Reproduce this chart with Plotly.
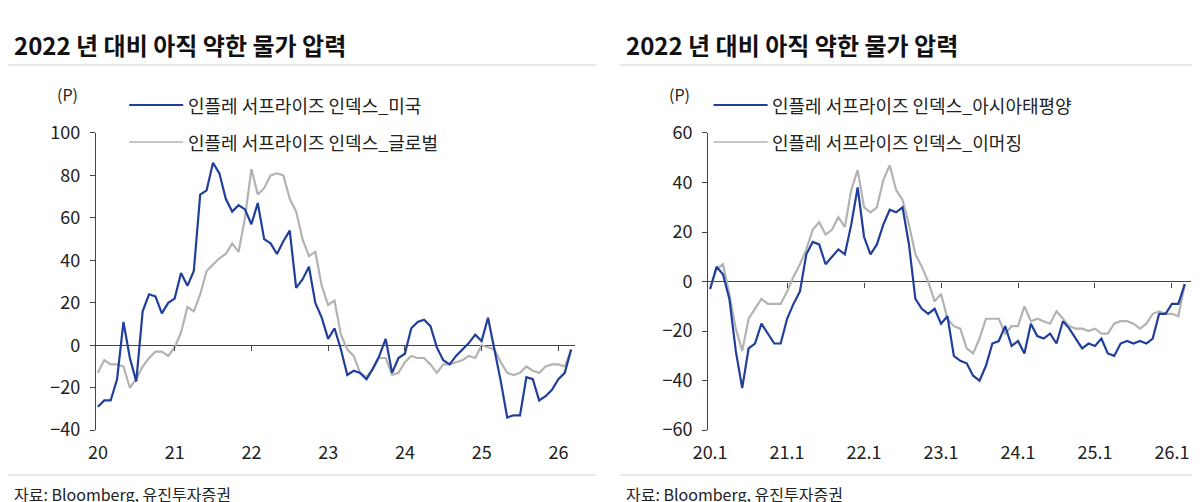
import plotly.graph_objects as go

us = [-29,-26,-26,-16,11,-6,-17,16,24,23,15,20,22,34,28,35,71,73,86,81,69,63,66,64,57,67,50,48,43,49,54,27,31,37,20,13,3,8,-2,-14,-12,-13,-16,-11,-5,3,-13,-6,-4,8,11,12,9,-1,-7,-9,-5,-2,1,5,2,13,-2,-17,-34,-33,-33,-15,-16,-26,-24,-21,-16,-13,-2]
glob = [-13,-7,-9,-9,-10,-20,-16,-10,-6,-3,-3,-5,-1,6,18,16,24,35,38,41,43,48,44,60,83,71,74,80,81,80,69,63,50,42,44,28,19,21,5,-2,-5,-13,-15,-11,-6,-6,-14,-13,-8,-5,-6,-6,-9,-13,-9,-9,-8,-7,-5,-6,0,-1,-2,-8,-13,-14,-13,-10,-12,-13,-10,-9,-9,-10,-2]
apac = [-3,6,3,-7,-28,-43,-27,-25,-17,-21,-25,-25,-15,-9,-4,11,16,15,7,10,13,11,23,38,18,11,15,23,29,28,30,15,-7,-11,-13,-11,-17,-14,-30,-32,-33,-38,-40,-34,-25,-24,-18,-26,-24,-29,-17,-22,-23,-21,-25,-16,-19,-23,-27,-25,-26,-23,-29,-30,-25,-24,-25,-24,-25,-23,-13,-13,-9,-9,-1]
emg = [-3,5,7,-5,-19,-28,-15,-11,-7,-9,-9,-9,-4,2,7,13,21,24,19,21,26,22,37,45,30,28,30,41,47,37,33,23,11,6,0,-8,-5,-15,-18,-19,-27,-29,-23,-15,-15,-15,-21,-18,-18,-10,-16,-15,-16,-17,-12,-15,-18,-19,-19,-20,-19,-21,-21,-17,-16,-16,-17,-19,-17,-13,-12,-13,-13,-14,-1]
months = list(range(len(us)))
tick_pos = [0,12,24,36,48,60,72]
left_ticks = ["20","21","22","23","24","25","26"]
right_ticks = ["20.1","21.1","22.1","23.1","24.1","25.1","26.1"]
title = "2022 년 대비 아직 약한 물가 압력"
leg_left = ["인플레 서프라이즈 인덱스_미국", "인플레 서프라이즈 인덱스_글로벌"]
leg_right = ["인플레 서프라이즈 인덱스_아시아태평양", "인플레 서프라이즈 인덱스_이머징"]
source = "자료: Bloomberg, 유진투자증권"

BLUE = "#1f3f9a"; GREY = "#b3b3b3"; FONT = "Noto Sans CJK KR"
fig = go.Figure()
fig.add_trace(go.Scatter(x=months, y=glob, mode="lines", line=dict(color=GREY, width=2.2), xaxis="x", yaxis="y"))
fig.add_trace(go.Scatter(x=months, y=us, mode="lines", line=dict(color=BLUE, width=2.2), xaxis="x", yaxis="y"))
fig.add_trace(go.Scatter(x=months, y=emg, mode="lines", line=dict(color=GREY, width=2.2), xaxis="x2", yaxis="y2"))
fig.add_trace(go.Scatter(x=months, y=apac, mode="lines", line=dict(color=BLUE, width=2.2), xaxis="x2", yaxis="y2"))

ydom = [0.159, 0.751]
def yfrac(v, lo, hi):
    return ydom[0] + (v - lo) / (hi - lo) * (ydom[1] - ydom[0])

common_x = dict(tickmode="array", tickvals=tick_pos, showline=False, showgrid=False, zeroline=False,
                ticks="", ticklabelstandoff=10, automargin=False, tickfont=dict(size=18, color="#222"))
common_y = dict(showgrid=False, showline=True, linecolor="#444", linewidth=1.3, ticks="outside",
                ticklen=5, tickcolor="#444", zeroline=True, zerolinecolor="#444", zerolinewidth=1.3,
                ticklabelstandoff=6, automargin=False, tickfont=dict(size=18, color="#222"))
fig.update_layout(
    width=1200, height=502, margin=dict(l=0, r=0, t=0, b=0, autoexpand=False), showlegend=False,
    plot_bgcolor="white", paper_bgcolor="white", font=dict(family=FONT),
    xaxis=dict(domain=[0.0733, 0.4725], range=[-0.3, 74.6], ticktext=left_ticks, anchor="y", **common_x),
    yaxis=dict(domain=ydom, range=[-40, 100], tickvals=[-40,-20,0,20,40,60,80,100], anchor="x", **common_y),
    xaxis2=dict(domain=[0.5835, 0.986], range=[-0.3, 75], ticktext=right_ticks, anchor="y2", **common_x),
    yaxis2=dict(domain=ydom, range=[-60, 60], tickvals=[-60,-40,-20,0,20,40,60], anchor="x2", **common_y),
    xaxis3=dict(overlaying="x", anchor="free", position=yfrac(0, -40, 100), range=[-0.3, 74.6],
                tickvals=tick_pos[1:], showticklabels=False, ticks="outside", ticklen=5, tickcolor="#444",
                showgrid=False, zeroline=False, showline=False, automargin=False),
    xaxis4=dict(overlaying="x2", anchor="free", position=yfrac(0, -60, 60), range=[-0.3, 75],
                tickvals=tick_pos[1:], showticklabels=False, ticks="outside", ticklen=5, tickcolor="#444",
                showgrid=False, zeroline=False, showline=False, automargin=False),
)
fig.add_trace(go.Scatter(x=[], y=[], xaxis="x3", yaxis="y", showlegend=False))
fig.add_trace(go.Scatter(x=[], y=[], xaxis="x4", yaxis="y2", showlegend=False))

def Y(px):
    return 1 - px / 502

for x0, x1 in [(0, 0.49), (0.51, 1.0)]:
    fig.add_shape(type="line", xref="paper", yref="paper", x0=x0, x1=x1, y0=Y(57), y1=Y(57), line=dict(color="#d0d0d0", width=1))
    fig.add_shape(type="line", xref="paper", yref="paper", x0=x0, x1=x1, y0=Y(467), y1=Y(467), line=dict(color="#d0d0d0", width=1))
    fig.add_annotation(text="<b>" + title + "</b>", xref="paper", yref="paper", x=x0 + 0.003, y=Y(36), xanchor="left", yanchor="middle",
                       showarrow=False, font=dict(size=24, color="#111", family=FONT))
    fig.add_annotation(text=source, xref="paper", yref="paper", x=x0 + 0.003, y=Y(486), xanchor="left", yanchor="middle",
                       showarrow=False, font=dict(size=16, color="#222", family=FONT))

for xa, legs, xl in [(0.0733, leg_left, 0.101), (0.5835, leg_right, 0.588)]:
    fig.add_annotation(text="(P)", xref="paper", yref="paper", x=xa - 0.024, y=Y(86), xanchor="center", yanchor="middle",
                       showarrow=False, font=dict(size=16, color="#222"))
    for i, (lab, col) in enumerate(zip(legs, [BLUE, GREY])):
        yy = Y(97 + i * 37)
        fig.add_shape(type="line", xref="paper", yref="paper", x0=xl, x1=xl + 0.045, y0=yy, y1=yy, line=dict(color=col, width=2.2 if i == 0 else 1.6))
        fig.add_annotation(text=lab, xref="paper", yref="paper", x=xl + 0.047, y=yy, xanchor="left", yanchor="middle",
                           showarrow=False, font=dict(size=18, color="#222"))

fig.write_html("out.html")
